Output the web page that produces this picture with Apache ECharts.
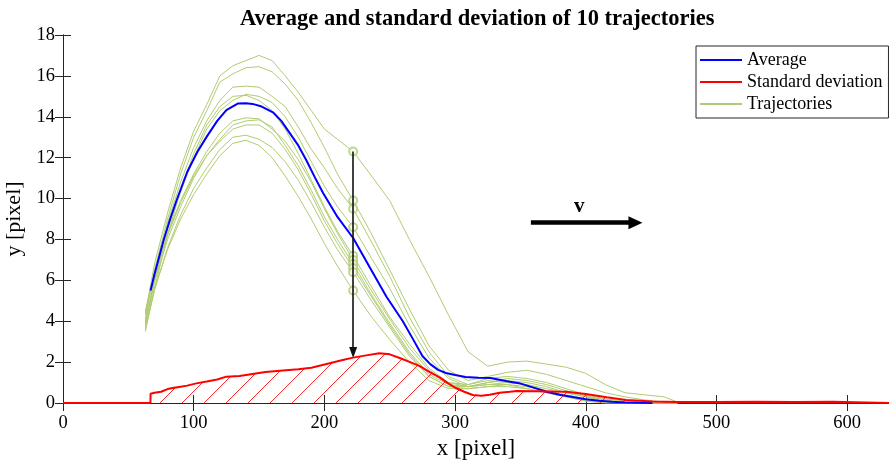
<!DOCTYPE html>
<html><head><meta charset="utf-8">
<script src="https://cdn.jsdelivr.net/npm/echarts@6/dist/echarts.min.js"></script>
<style>html,body{margin:0;padding:0;background:#fff}#c{width:889px;height:461px}</style>
</head><body><div id="c"></div><script>
// ---- data ----
const trajX = [63,70,80,90,100,110,120,130,140,150,160,170,180,190,200,210,222,235,250,265,280,295,310,325,340,355,370,385,400,415,430,445,460,470];
const trajA = [4.4,6.8,9.3,11.5,13.3,14.6,16.0,16.5,16.75,17.0,16.75,16.0,15.2,14.3,13.4,12.9,12.3,11.2,9.9,8.0,6.2,4.3,2.5,1.8,2.0,2.05,1.9,1.75,1.45,0.9,0.5,0.4,0.3,0.05];
const trajB = [4.1,6.5,9.0,11.2,13.0,14.3,15.7,16.1,16.4,16.45,16.2,15.6,14.8,13.7,12.5,11.2,9.9,8.4,6.5,4.6,2.8,1.6,1.1,1.3,1.5,1.6,1.4,1.1,0.8,0.5,0.3,0.15,0.05,0];
const trajC = [3.9,6.0,8.8,10.8,12.5,13.8,14.8,15.45,15.5,15.45,15.0,14.5,13.5,12.4,11.5,10.5,9.5,8.0,6.2,4.2,2.5,1.3,0.9,1.2,1.3,1.2,1.0,0.7,0.4,0.2,0.1,0.05,0,0];
const trajD = [4.3,6.3,8.5,10.3,12.0,13.4,14.3,14.8,15.1,15.0,14.7,14.0,13.0,11.8,10.6,9.6,8.6,7.2,5.6,3.8,2.2,1.2,0.8,1.0,1.2,1.1,0.9,0.6,0.35,0.15,0.05,0,0,0];
const trajE = [3.5,5.6,8.2,10.4,12.2,13.6,14.5,15.0,15.05,14.8,14.3,13.4,12.2,10.9,9.6,8.4,7.2,5.8,4.2,2.9,1.7,1.0,0.9,1.1,1.0,0.9,0.7,0.5,0.3,0.1,0,0,0,0];
const trajF = [4.0,6.0,8.3,9.9,11.2,12.3,13.2,13.8,13.95,13.9,13.4,12.8,11.9,10.8,9.5,8.3,7.0,5.6,4.1,2.7,1.6,1.0,0.8,0.9,1.0,0.9,0.6,0.4,0.2,0.1,0,0,0,0];
const trajG = [3.8,5.9,8.0,9.6,11.0,12.1,12.9,13.6,13.8,13.85,13.5,12.6,11.6,10.4,9.1,8.0,6.8,5.4,3.9,2.5,1.4,0.9,0.8,1.0,1.1,1.0,0.8,0.5,0.3,0.15,0.05,0,0,0];
const trajH = [4.5,6.3,8.2,9.8,11.1,12.1,12.8,13.4,13.6,13.6,13.2,12.4,11.4,10.2,8.9,7.8,6.6,5.3,3.8,2.4,1.3,0.8,0.8,0.9,0.9,0.8,0.6,0.35,0.15,0.05,0,0,0,0];
const trajI = [3.6,5.5,7.6,9.2,10.5,11.5,12.4,13.0,13.1,12.9,12.5,11.8,10.9,9.8,8.6,7.5,6.4,5.1,3.7,2.3,1.3,0.8,0.7,0.8,0.9,0.7,0.5,0.3,0.1,0,0,0,0,0];
const trajJ = [3.7,5.6,7.5,9.0,10.2,11.2,12.1,12.7,12.85,12.6,12.0,11.1,10.1,9.0,7.8,6.7,5.5,4.3,3.1,2.0,1.1,0.7,0.7,0.8,0.8,0.7,0.5,0.3,0.1,0,0,0,0,0];

const avgX = [67,70,77,82,87,95,103,110,118,125,134,140,145,152,161,167,173.5,180,186,193,199,210,222,235,247.5,260,268,275,281,287,293,300,308,318,327,335,342,349,360,370,380,390,400,410,420,430,440,451];
const avgY = [5.5,6.3,7.97,9.0,9.93,11.3,12.3,13.03,13.8,14.33,14.65,14.66,14.63,14.5,14.2,13.8,13.2,12.6,11.9,11.0,10.27,9.1,8.07,6.6,5.2,4.0,3.1,2.3,1.9,1.62,1.47,1.37,1.27,1.23,1.22,1.13,1.04,0.97,0.75,0.55,0.4,0.29,0.18,0.11,0.06,0.03,0.01,0.0];

const stdX = [0,66.9,67,70,75,80,84,90,95,102,110,118,125,135,145,155,166,180,190,204,214,222,232,242,250,257.6,268,273,280,288,295,301,307,313.5,320,326.5,334,342,347,360,375,385,400,416,431,451,470,500,530,560,589,589.5,632];
const stdY = [0,0,0.45,0.5,0.55,0.68,0.73,0.8,0.85,0.96,1.05,1.15,1.29,1.32,1.42,1.52,1.58,1.65,1.72,1.94,2.1,2.22,2.33,2.43,2.38,2.2,1.94,1.8,1.53,1.25,0.95,0.72,0.55,0.39,0.36,0.4,0.5,0.55,0.59,0.58,0.56,0.55,0.44,0.28,0.15,0.07,0.05,0.05,0.06,0.05,0.06,0,0];

const xTicks = [0,100,200,300,400,500,600];
const yTicks = [0,2,4,6,8,10,12,14,16,18];
const sampleX = 222;
// ---- end data ----

const trajectories = [trajA,trajB,trajC,trajD,trajE,trajF,trajG,trajH,trajI,trajJ];
const sIdx = trajX.indexOf(sampleX);
const circles = trajectories.map(t => [sampleX, t[sIdx]]);
const topCircle = Math.max(...circles.map(c => c[1]));
const stdAtSample = stdY[stdX.indexOf(sampleX)];

const FONT = 'Liberation Serif';
const GREEN = '#B0CC72';
const HATCH_STEP = 22;   // px between hatch lines
const HATCH_PHASE = 160; // px where one hatch line meets the baseline

const series = [];
trajectories.forEach(t => {
  series.push({
    name: 'Trajectories', type: 'line', data: trajX.map((x, i) => [x, t[i]]),
    showSymbol: false, symbol: 'none', lineStyle: { color: GREEN, width: 1 }, itemStyle: { color: GREEN },
    z: 2, silent: true
  });
});
series.push({
  name: 'circles', type: 'scatter', data: circles, symbol: 'emptyCircle', symbolSize: 8,
  itemStyle: { color: GREEN, borderColor: GREEN, borderWidth: 1.2 }, z: 3, silent: true,
  markLine: {
    silent: true, symbol: ['none', 'triangle'], symbolSize: [8, 11], label: { show: false },
    lineStyle: { color: '#111', width: 1.6, type: 'solid' },
    data: [[{ coord: [sampleX, topCircle] }, { coord: [sampleX, stdAtSample + 0.25] }]]
  }
});
series.push({
  name: 'Average', type: 'line', data: avgX.map((x, i) => [x, avgY[i]]),
  showSymbol: false, symbol: 'none', lineStyle: { color: '#0000FF', width: 2 }, itemStyle: { color: '#0000FF' }, z: 4, silent: true
});
// hatching under the standard deviation curve (45° red lines clipped by the curve)
series.push({
  name: 'hatch', type: 'custom', coordinateSystem: 'cartesian2d', data: [[0, 0]], silent: true, z: 4,
  renderItem: function (params, api) {
    const pts = stdX.map((x, i) => api.coord([x, stdY[i]]));
    const base = api.coord([0, 0])[1];
    const left = pts[0][0], right = pts[pts.length - 1][0];
    function curveY(px) {
      for (let i = 0; i < pts.length - 1; i++) {
        const a = pts[i], b = pts[i + 1];
        if (px >= a[0] && px <= b[0]) {
          if (b[0] === a[0]) return Math.min(a[1], b[1]);
          return a[1] + (b[1] - a[1]) * (px - a[0]) / (b[0] - a[0]);
        }
      }
      return base;
    }
    const children = [];
    let start = HATCH_PHASE;
    while (start - HATCH_STEP >= left) start -= HATCH_STEP;
    for (let x0 = start; x0 < right; x0 += HATCH_STEP) {
      if (base - curveY(x0 + 0.5) < 0.8) continue;
      let t = 0;
      while (x0 + t < right) {
        const nt = t + 0.25;
        if (base - nt < curveY(x0 + nt)) break;
        t = nt;
      }
      if (t < 0.5) continue;
      children.push({ type: 'line', shape: { x1: x0, y1: base, x2: x0 + t, y2: base - t },
        style: { stroke: '#FF2A2A', lineWidth: 1 } });
    }
    return { type: 'group', children: children };
  }
});
series.push({
  name: 'Standard deviation', type: 'line', data: stdX.map((x, i) => [x, stdY[i]]),
  showSymbol: false, symbol: 'none', lineStyle: { color: '#FF0000', width: 2 }, itemStyle: { color: '#FF0000' },
  z: 5, silent: true,
  markLine: {
    silent: true, symbol: ['none', 'triangle'], symbolSize: [13, 14],
    lineStyle: { color: '#000', width: 4.5, type: 'solid' },
    label: { show: true, position: 'insideMiddleTop', formatter: 'v', fontFamily: FONT, fontSize: 21, fontWeight: 'bold', color: '#000', distance: 6, offset: [-4, 0] },
    data: [[{ coord: [358, 8.82] }, { coord: [438, 8.82] }]]
  }
});

const chart = echarts.init(document.getElementById('c'), null, { renderer: 'canvas' });
chart.setOption({
  animation: false,
  backgroundColor: '#fff',
  title: {
    text: 'Average and standard deviation of 10 trajectories', left: 235, top: 3,
    textStyle: { fontFamily: FONT, fontSize: 22.5, fontWeight: 'bold', color: '#000' }
  },
  legend: {
    data: ['Average', 'Standard deviation', 'Trajectories'],
    orient: 'vertical', left: 696, top: 46, icon: 'rect', itemWidth: 42, itemHeight: 2, itemGap: 4,
    padding: [5, 6, 5, 4], borderColor: '#262626', borderWidth: 1, backgroundColor: '#fff',
    textStyle: { fontFamily: FONT, fontSize: 18, lineHeight: 18, color: '#000' }
  },
  grid: { left: 63, right: 0, top: 35, bottom: 58, containLabel: false, outerBoundsMode: 'none' },
  xAxis: [{
    type: 'value', min: 0, max: 632, interval: 100, position: 'bottom',
    axisLine: { lineStyle: { color: '#262626', width: 1 } },
    axisTick: { inside: true, length: 8, lineStyle: { color: '#262626' }, customValues: xTicks },
    axisLabel: { fontFamily: FONT, fontSize: 18.5, color: '#000', margin: 11, customValues: xTicks },
    splitLine: { show: false },
    name: 'x [pixel]', nameLocation: 'middle', nameGap: 33,
    nameTextStyle: { fontFamily: FONT, fontSize: 23, color: '#000' }
  }, {
    type: 'value', min: 0, max: 632, interval: 100, position: 'top',
    axisLine: { lineStyle: { color: '#262626', width: 1 } },
    axisTick: { inside: true, length: 8, lineStyle: { color: '#262626' } },
    axisLabel: { show: false }, splitLine: { show: false }
  }],
  yAxis: [{
    type: 'value', min: 0, max: 18, interval: 2, position: 'left',
    axisLine: { show: true, lineStyle: { color: '#262626', width: 1 } },
    axisTick: { show: true, inside: true, length: 8, lineStyle: { color: '#262626' }, customValues: yTicks },
    axisLabel: { fontFamily: FONT, fontSize: 18.5, color: '#000', margin: 8, customValues: yTicks },
    splitLine: { show: false },
    name: 'y [pixel]', nameLocation: 'middle', nameGap: 29,
    nameTextStyle: { fontFamily: FONT, fontSize: 22, color: '#000' }
  }, {
    type: 'value', min: 0, max: 18, interval: 2, position: 'right',
    axisLine: { show: true, lineStyle: { color: '#262626', width: 1 } },
    axisTick: { show: true, inside: true, length: 8 }, axisLabel: { show: false }, splitLine: { show: false }
  }],
  series: series
});
</script></body></html>
